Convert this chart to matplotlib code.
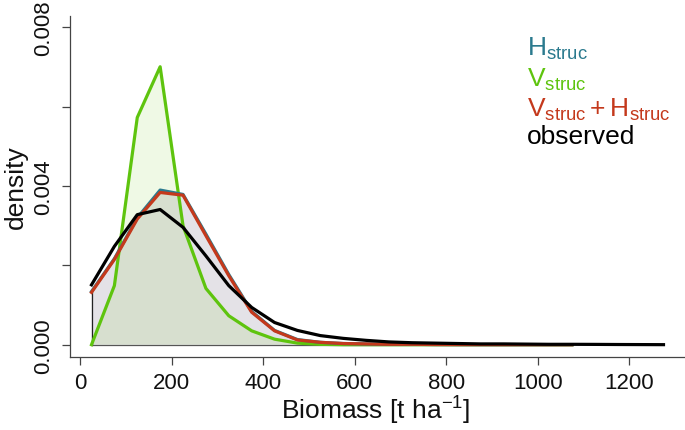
import matplotlib
matplotlib.use("Agg")
import matplotlib.pyplot as plt
import numpy as np

plt.rcParams['font.family'] = ['Liberation Sans', 'DejaVu Sans']
plt.rcParams['mathtext.fontset'] = 'custom'
plt.rcParams['mathtext.rm'] = 'Liberation Sans'
plt.rcParams['mathtext.it'] = 'Liberation Sans:italic'
plt.rcParams['mathtext.bf'] = 'Liberation Sans:bold'

# bin mid-points (t/ha)
biomass_obs = [25, 75, 125, 175, 225, 275, 325, 375, 425, 475, 525, 575, 625,
               675, 725, 775, 825, 875, 925, 975, 1025, 1075, 1125, 1175, 1225, 1275]
biomass_mod = biomass_obs[:22]

h_struc = [0.00134, 0.00217, 0.00320, 0.00390, 0.00379, 0.00279, 0.00177, 0.00084,
           0.00036, 0.00013, 0.00006, 0.00003, 0.00002, 0.00001, 0.00001, 0.000005,
           0.000003, 0.000002, 0.000001, 0.000001, 0.0, 0.0]
vh_struc = [0.00132, 0.00215, 0.00317, 0.00384, 0.00377, 0.00275, 0.00174, 0.00082,
            0.00035, 0.00012, 0.00006, 0.00003, 0.00002, 0.00001, 0.00001, 0.000005,
            0.000003, 0.000002, 0.000001, 0.000001, 0.0, 0.0]
v_struc = [0.0, 0.00149, 0.00573, 0.00701, 0.00300, 0.00142, 0.00073, 0.00035,
           0.00014, 0.00004, 0.00001, 0.0, 0.0, 0.0, 0.0, 0.0, 0.0, 0.0, 0.0, 0.0, 0.0, 0.0]
observed = [0.00151, 0.00248, 0.00328, 0.00341, 0.00296, 0.00224, 0.00149, 0.00094,
            0.00056, 0.00036, 0.00023, 0.00016, 0.00011, 0.00007, 0.00005, 0.00004,
            0.00003, 0.00002, 0.00002, 0.000015, 0.00001, 0.00001, 0.000008, 0.000005,
            0.000003, 0.000001]

x_ticks = [0, 200, 400, 600, 800, 1000, 1200]
y_ticks = [0.000, 0.002, 0.004, 0.006, 0.008]
y_ticklabels = ['0.000', '', '0.004', '', '0.008']

c_h = '#2b7a8e'
c_v = '#5ec40e'
c_vh = '#c4391c'
c_obs = '#000000'

W, H = 685, 431
fig = plt.figure(figsize=(W / 100, H / 100), dpi=100)
ax = fig.add_axes([70 / W, 1 - 358 / H, 615 / W, 341 / H])

xm = np.array(biomass_mod, dtype=float)
# gray polygon under H_struc
ax.fill_between(xm, 0, h_struc, facecolor='#e4e2e7', edgecolor='none', zorder=1)
ax.fill_between(xm, 0, v_struc, facecolor='#66cd00', alpha=0.1, edgecolor='none', zorder=2)
# polygon outline (left edge + baseline)
ax.plot([xm[0], xm[0]], [0, h_struc[0]], color='#222222', lw=0.9, zorder=3)
ax.plot([xm[0], xm[-1]], [0, 0], color='#555555', lw=0.9, zorder=3)

ax.plot(biomass_mod, v_struc, color=c_v, lw=2.3, zorder=4, solid_joinstyle='round')
ax.plot(biomass_mod, h_struc, color=c_h, lw=2.3, zorder=5, solid_joinstyle='round')
ax.plot(biomass_mod, vh_struc, color=c_vh, lw=2.3, zorder=6, solid_joinstyle='round')
ax.plot(biomass_obs, observed, color=c_obs, lw=2.3, zorder=7, solid_joinstyle='round')

ax.set_xlim(-22, 1322)
ax.set_ylim(-0.00031, 0.00829)
ax.set_xticks(x_ticks)
ax.set_xticklabels([str(t) for t in x_ticks], fontsize=16)
ax.set_yticks(y_ticks)
ax.set_yticklabels(y_ticklabels, fontsize=16, rotation=90, va='center')

for s in ['top', 'right']:
    ax.spines[s].set_visible(False)
for s in ['left', 'bottom']:
    ax.spines[s].set_color('#444444')
    ax.spines[s].set_linewidth(0.9)
ax.tick_params(axis='both', direction='out', length=5.5, width=0.9, color='#444444',
               labelcolor='#111111')
ax.tick_params(axis='x', pad=5)
ax.tick_params(axis='y', pad=6)

fig.text(376 / W, 1 - 411 / H, r'Biomass [t ha$^{\mathrm{-1}}$]', fontsize=19,
         ha='center', va='center', color='#111111')
fig.text(16 / W, 1 - 187 / H, 'density', fontsize=19, rotation=90,
         ha='center', va='center', color='#111111')

leg_x = 527 / W
fig.text(leg_x, 1 - 56 / H, r'$\mathrm{H}_{\mathrm{struc}}$', fontsize=19, color=c_h, va='baseline')
fig.text(leg_x, 1 - 87 / H, r'$\mathrm{V}_{\mathrm{struc}}$', fontsize=19, color=c_v, va='baseline')
fig.text(leg_x, 1 - 117 / H, r'$\mathrm{V}_{\mathrm{struc}}+\mathrm{H}_{\mathrm{struc}}$',
         fontsize=19, color=c_vh, va='baseline')
fig.text(leg_x, 1 - 144 / H, 'observed', fontsize=19, color=c_obs, va='baseline')

fig.savefig('out.png', dpi=100)
